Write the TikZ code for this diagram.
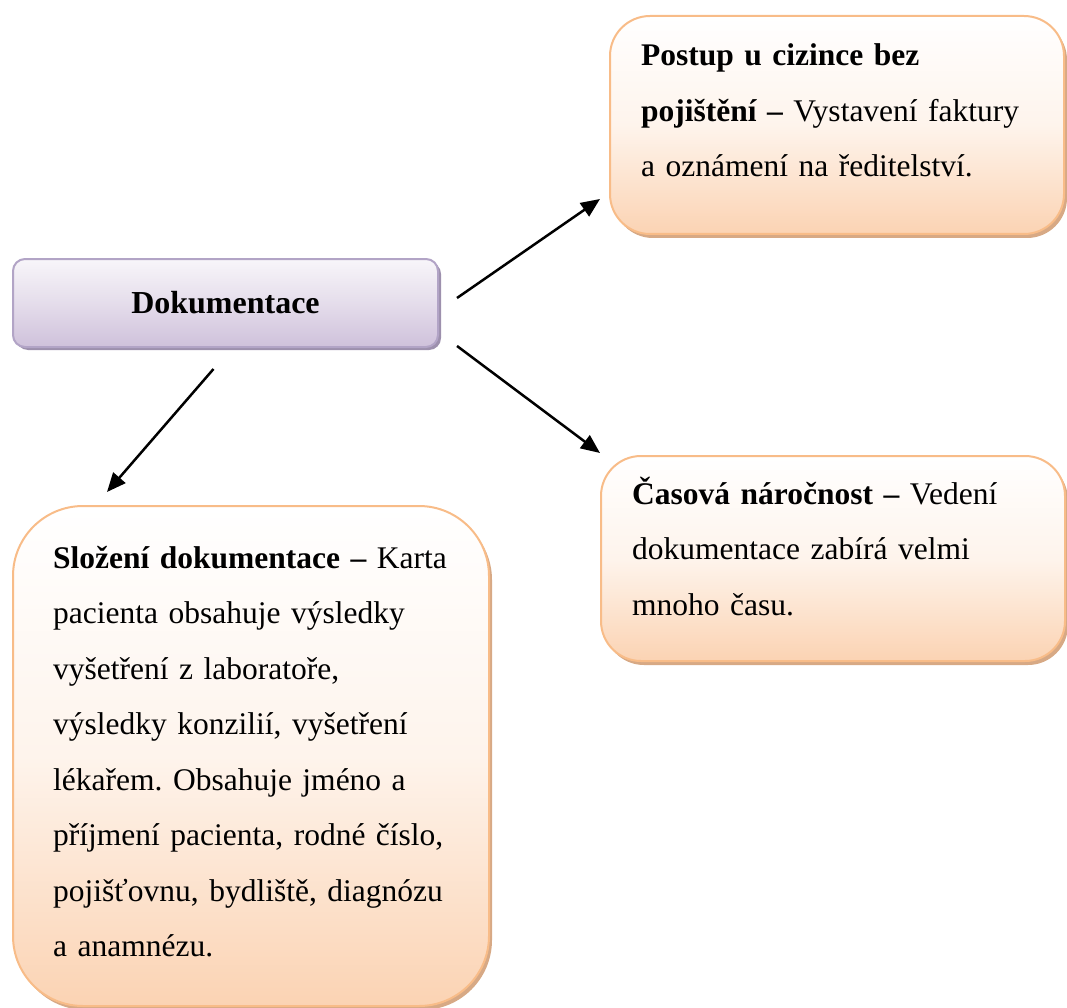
\documentclass[tikz,border=0pt]{standalone}
\usepackage{fontspec}
\setmainfont{Liberation Serif}
\usetikzlibrary{shadows,arrows.meta}

\definecolor{peach}{HTML}{FBD3B3}
\definecolor{peachline}{HTML}{F8BC88}
\definecolor{peachshadow}{HTML}{D7A985}
\definecolor{lilac}{HTML}{CFC1DB}
\definecolor{lilacline}{HTML}{B2A4C6}
\definecolor{lilacshadow}{HTML}{9D90AD}

\tikzset{
  card/.style={draw=peachline, line width=2pt, inner sep=0pt, anchor=north west,
    top color=white, bottom color=peach, middle color=peach!25!white,
    drop shadow={shadow xshift=3pt, shadow yshift=-4pt, fill=peachshadow, opacity=1}},
  headbox/.style={draw=lilacline, line width=2pt, inner sep=0pt, anchor=north west,
    top color=lilac!15!white, bottom color=lilac, middle color=lilac!55!white,
    rounded corners=12pt,
    drop shadow={shadow xshift=3pt, shadow yshift=-3pt, fill=lilacshadow, opacity=1},
    font=\fontsize{32}{38}\selectfont\bfseries},
  cardtext/.style={anchor=base west, inner sep=0pt, align=left,
    font=\fontsize{31.5}{55.5}\selectfont\frenchspacing},
  arr/.style={line width=2.5pt, -{Triangle[length=19pt,width=16pt]}}
}

\begin{document}
\begin{tikzpicture}[x=1pt, y=-1pt]
  \useasboundingbox (0,0) rectangle (1067,1008);

  % boxes
  \node[headbox, minimum width=425pt, minimum height=88pt] (dok) at (12,258) {Dokumentace};
  \node[card, rounded corners=40pt, minimum width=454pt, minimum height=218pt] (tr) at (609,15) {};
  \node[card, rounded corners=40pt, minimum width=464pt, minimum height=205pt] (mr) at (600,455) {};
  \node[card, rounded corners=70pt, minimum width=476pt, minimum height=500pt] (bl) at (12,505) {};

  % box texts
  \node[cardtext, text width=420pt] (trtext) at (641,66)
    {\textbf{Postup u cizince bez}\\
     \textbf{pojištění –} Vystavení faktury\\
     a oznámení na ředitelství.};
  \node[cardtext, text width=430pt] (mrtext) at (632,504)
    {\textbf{Časová náročnost –} Vedení\\
     dokumentace zabírá velmi\\
     mnoho času.};
  \node[cardtext, text width=430pt] (bltext) at (53,568)
    {\textbf{Složení dokumentace –} Karta\\
     pacienta obsahuje výsledky\\
     vyšetření z laboratoře,\\
     výsledky konzilií, vyšetření\\
     lékařem. Obsahuje jméno a\\
     příjmení pacienta, rodné číslo,\\
     pojišťovnu, bydliště, diagnózu\\
     a anamnézu.};

  % connectors
  \draw[arr] ([shift={(18,-5)}]dok.east) -- ([shift={(-9,-36)}]tr.south west);
  \draw[arr] ([shift={(18,-2)}]dok.south east) -- ([shift={(0,-2)}]mr.north west);
  \draw[arr] ([shift={(-12,21)}]dok.south) -- ([shift={(95,-13)}]bl.north west);
\end{tikzpicture}
\end{document}
